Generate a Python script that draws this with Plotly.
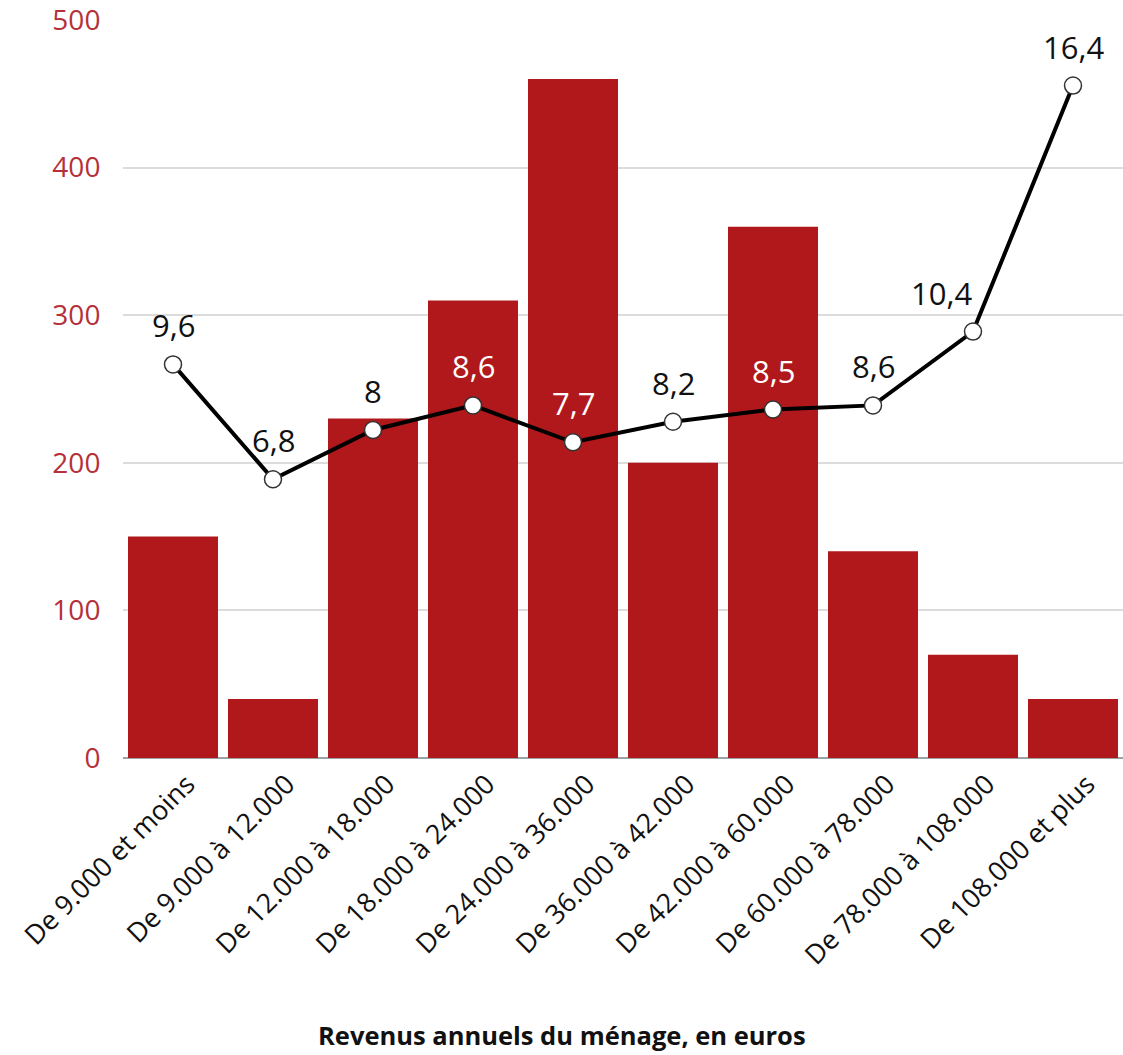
import plotly.graph_objects as go

categories = [
    "De 9.000 et moins", "De 9.000 à 12.000", "De 12.000 à 18.000",
    "De 18.000 à 24.000", "De 24.000 à 36.000", "De 36.000 à 42.000",
    "De 42.000 à 60.000", "De 60.000 à 78.000", "De 78.000 à 108.000",
    "De 108.000 et plus",
]
bar_values = [150, 40, 230, 310, 460, 200, 360, 140, 70, 40]
line_values = [9.6, 6.8, 8.0, 8.6, 7.7, 8.2, 8.5, 8.6, 10.4, 16.4]
line_labels = ["9,6", "6,8", "8", "8,6", "7,7", "8,2", "8,5", "8,6", "10,4", "16,4"]
label_colors = ["#111", "#111", "#111", "#fff", "#fff", "#111", "#fff", "#111", "#111", "#111"]
label_xshift = [0, 0, 0, 0, 0, 0, 0, 0, -32, 0]
y_ticks = [0, 100, 200, 300, 400, 500]
x_title = "Revenus annuels du ménage, en euros"

RED = "#b0181c"
FONT = "Open Sans"

fig = go.Figure()
fig.add_trace(go.Bar(x=categories, y=bar_values, marker=dict(color=RED, line=dict(width=0)),
                     hoverinfo="skip"))
fig.add_trace(go.Scatter(
    x=categories, y=line_values, yaxis="y2", mode="lines+markers",
    line=dict(color="#000", width=4),
    marker=dict(size=17, color="#fff", line=dict(color="#333", width=1.5)),
))

for c, v, t, col, xs in zip(categories, line_values, line_labels, label_colors, label_xshift):
    fig.add_annotation(x=c, y=v, yref="y2", text=t, showarrow=False,
                       yshift=39, xshift=xs, yanchor="middle",
                       font=dict(family=FONT, size=31, color=col))

# axis title centred on the whole figure, below the rotated labels
fig.add_annotation(x=0.4385, xref="paper", xanchor="center",
                   y=-0.375, yref="paper", yanchor="middle", text=f"<b>{x_title}</b>",
                   showarrow=False, font=dict(family=FONT, size=25.5, color="#111"))

fig.update_layout(
    width=1123, height=1055,
    margin=dict(l=123, r=0, t=20, b=297, autoexpand=False),
    plot_bgcolor="#fff", paper_bgcolor="#fff",
    showlegend=False, bargap=0.1,
    font=dict(family=FONT),
    xaxis=dict(
        range=[-0.5, len(categories) - 0.5],
        tickangle=-45, tickfont=dict(family=FONT, size=27, color="#111"),
        showgrid=False, ticks="", ticklabelshift=14, ticklabelstandoff=4,
        showline=False, automargin=False, ticklabeloverflow="allow",
    ),
    yaxis=dict(
        range=[0, 500], tickvals=y_ticks, ticktext=[str(v) for v in y_ticks],
        tickfont=dict(family=FONT, size=28, color="#b5303a"),
        showgrid=True, gridcolor="#dcdcdc", gridwidth=1.5,
        zeroline=True, zerolinecolor="#9aa3a8", zerolinewidth=1.5,
        ticks="outside", ticklen=16, tickcolor="rgba(0,0,0,0)", showline=False,
        automargin=False, ticklabeloverflow="allow",
    ),
    yaxis2=dict(range=[0, 18], overlaying="y", side="right", visible=False,
                showgrid=False, zeroline=False),
)

fig.write_html("out.html")
